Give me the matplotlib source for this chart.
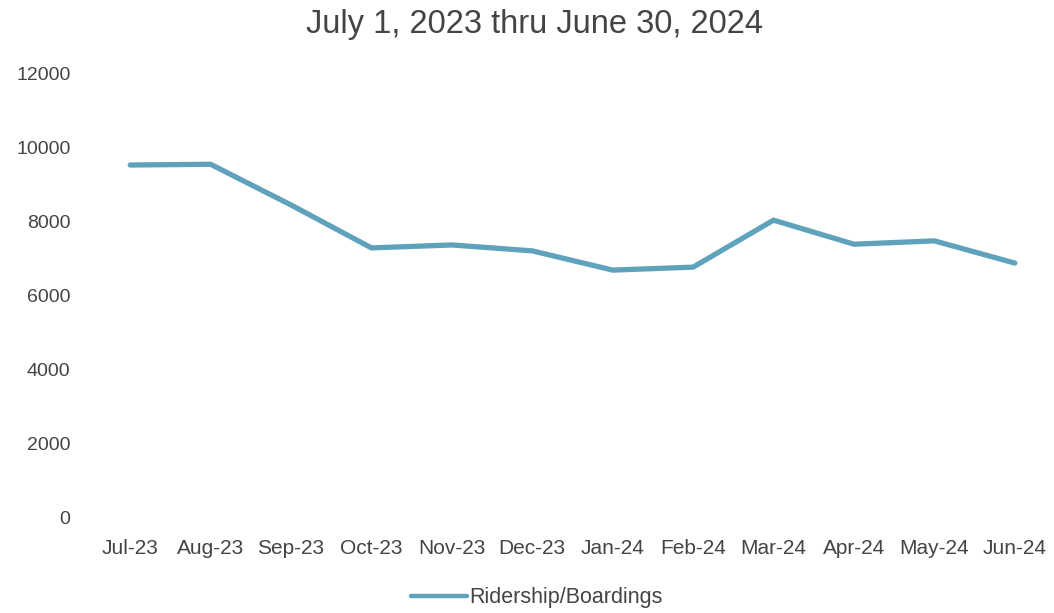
import matplotlib
matplotlib.use('Agg')
import matplotlib.pyplot as plt

# Monthly ridership, FY July 2023 - June 2024
months = ['Jul-23', 'Aug-23', 'Sep-23', 'Oct-23', 'Nov-23', 'Dec-23',
          'Jan-24', 'Feb-24', 'Mar-24', 'Apr-24', 'May-24', 'Jun-24']
boardings = [9540, 9560, 8460, 7300, 7380, 7220,
             6700, 6780, 8050, 7400, 7490, 6890]
yticks = [0, 2000, 4000, 6000, 8000, 10000, 12000]

line_color = '#5fa2bc'
text_color = '#444444'
font = ['Liberation Sans', 'DejaVu Sans']

fig = plt.figure(figsize=(10.54, 6.13), dpi=100)
ax = fig.add_axes([90 / 1054, 1 - 518 / 613, 965 / 1054, 444 / 613])

x = list(range(len(months)))
ax.plot(x, boardings, color=line_color, linewidth=3.8, solid_capstyle='round',
        solid_joinstyle='round', label='Ridership/Boardings')

ax.set_xlim(-0.5, len(months) - 0.5)
ax.set_ylim(0, 12000)
ax.set_yticks(yticks)
ax.set_yticklabels([str(v) for v in yticks])
ax.set_xticks(x)
ax.set_xticklabels(months)

for s in ax.spines.values():
    s.set_visible(False)
ax.tick_params(length=0)
ax.tick_params(axis='y', pad=14, labelsize=14, labelcolor=text_color)
ax.tick_params(axis='x', pad=15, labelsize=15, labelcolor=text_color)
for lbl in ax.get_xticklabels() + ax.get_yticklabels():
    lbl.set_family(font)

fig.text(535 / 1054, 1 - 33 / 613, 'July 1, 2023 thru June 30, 2024',
         ha='center', va='baseline', fontsize=23.5, color=text_color,
         family=font)

leg = fig.legend(loc='center', bbox_to_anchor=(537 / 1054, 1 - 598 / 613),
                 frameon=False, handlelength=2.6, handletextpad=0.1,
                 prop={'family': font, 'size': 15.5})
leg.get_lines()[0].set_linewidth(3.2)
for t in leg.get_texts():
    t.set_color(text_color)

fig.savefig('out.png', dpi=100)
